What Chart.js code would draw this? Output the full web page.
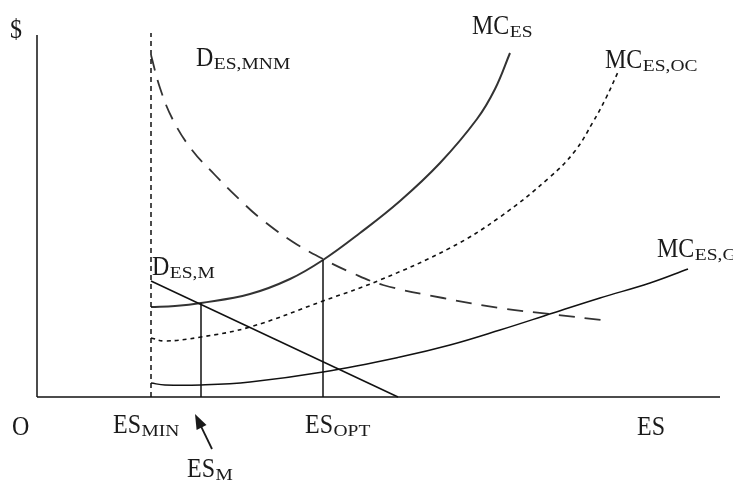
<!DOCTYPE html>
<html>
<head>
<meta charset="utf-8">
<script src="https://cdn.jsdelivr.net/npm/chart.js@4.4.1/dist/chart.umd.min.js"></script>
<style>
  html, body { margin: 0; padding: 0; background: #fff; }
  #c { display: block; }
</style>
</head>
<body>
<canvas id="c" width="733" height="481"></canvas>
<script>
// ---- Data (x = ES quantity, y = $) ----
const mcES_x   = [114, 138, 164, 213, 253, 286, 323, 363, 403, 440, 458, 473];
const mcES_y   = [90, 91, 94, 103, 118, 137, 164, 196, 234, 278, 308, 344];

const mcOC_x   = [114, 128, 164, 213, 286, 343, 413, 463, 513, 538, 556, 569, 581];
const mcOC_y   = [59, 56, 60, 70, 96, 117, 149, 180, 220, 246, 275, 299, 325];

const mcG_x    = [114, 128, 164, 213, 286, 363, 413, 463, 516, 563, 613, 651];
const mcG_y    = [14, 12, 12, 15, 25, 40, 52, 67, 84, 99, 114, 128];

const dM_x     = [114, 361];
const dM_y     = [116, 0];

const dMNM_x   = [114, 123, 136, 155, 178, 203, 223, 256, 286, 313, 346, 406, 463, 513, 573];
const dMNM_y   = [342, 309, 277, 247, 222, 197, 179, 155, 138, 125, 112, 99, 89, 83, 76];

const esMIN = 114, esM = 164, esOPT = 286;
const esMIN_top = 364;
const esM_top = 94;
const esOPT_top = 137;

const xMax = 683, yMax = 362;

const pts = (xs, ys) => xs.map((x, i) => ({ x: x, y: ys[i] }));

// ---- Annotation texts (main, subscript) ----
const labels = [
  { t: '$',  s: '',       x: -27, y: 359 },
  { t: 'O',  s: '',       x: -25, y: -38 },
  { t: 'ES', s: 'MIN',    x: 76,  y: -36 },
  { t: 'ES', s: 'OPT',    x: 268, y: -36 },
  { t: 'ES', s: '',       x: 600, y: -38 },
  { t: 'ES', s: 'M',      x: 150, y: -80 },
  { t: 'D',  s: 'ES,MNM', x: 159, y: 331 },
  { t: 'D',  s: 'ES,M',   x: 115, y: 122 },
  { t: 'MC', s: 'ES',     x: 435, y: 363 },
  { t: 'MC', s: 'ES,OC',  x: 568, y: 329 },
  { t: 'MC', s: 'ES,G',   x: 620, y: 140 }
];
const arrow = { x1: 175, y1: -52, x2: 158, y2: -17 };

const textPlugin = {
  id: 'texts',
  afterDatasetsDraw(chart) {
    const ctx = chart.ctx;
    const xs = chart.scales.x, ys = chart.scales.y;
    ctx.save();
    ctx.fillStyle = '#1a1a1a';
    ctx.textBaseline = 'alphabetic';
    ctx.textAlign = 'left';
    labels.forEach(l => {
      const px = xs.getPixelForValue(l.x);
      const py = ys.getPixelForValue(l.y);
      ctx.font = '24px "Liberation Serif", "Times New Roman", serif';
      const w = ctx.measureText(l.t).width;
      ctx.save();
      ctx.translate(px, py);
      ctx.scale(1, 1.1);
      ctx.fillText(l.t, 0, 0);
      ctx.restore();
      if (l.s) {
        ctx.save();
        ctx.translate(px + w + 0.5, py + 3);
        ctx.scale(1.3, 1.05);
        ctx.font = '15px "Liberation Serif", "Times New Roman", serif';
        ctx.fillText(l.s, 0, 0);
        ctx.restore();
      }
    });
    // arrow
    const ax1 = xs.getPixelForValue(arrow.x1), ay1 = ys.getPixelForValue(arrow.y1);
    const ax2 = xs.getPixelForValue(arrow.x2), ay2 = ys.getPixelForValue(arrow.y2);
    const ang = Math.atan2(ay2 - ay1, ax2 - ax1);
    ctx.strokeStyle = '#1a1a1a';
    ctx.lineWidth = 1.8;
    ctx.beginPath();
    ctx.moveTo(ax1, ay1);
    ctx.lineTo(ax2 - 8 * Math.cos(ang), ay2 - 8 * Math.sin(ang));
    ctx.stroke();
    ctx.beginPath();
    ctx.moveTo(ax2, ay2);
    ctx.lineTo(ax2 - 15 * Math.cos(ang) + 5.5 * Math.sin(ang), ay2 - 15 * Math.sin(ang) - 5.5 * Math.cos(ang));
    ctx.lineTo(ax2 - 15 * Math.cos(ang) - 5.5 * Math.sin(ang), ay2 - 15 * Math.sin(ang) + 5.5 * Math.cos(ang));
    ctx.closePath();
    ctx.fill();
    ctx.restore();
  }
};

const line = (data, color, width, dash, curve) => ({
  type: 'scatter',
  data: data,
  showLine: true,
  pointRadius: 0,
  borderColor: color,
  backgroundColor: color,
  borderWidth: width,
  borderDash: dash || [],
  tension: curve ? 0.4 : 0,
  clip: false,
  fill: false
});

new Chart(document.getElementById('c'), {
  type: 'scatter',
  data: {
    datasets: [
      line(pts([0, 0], [0, yMax]), '#111', 1.5),
      line(pts([0, xMax], [0, 0]), '#111', 1.5),
      line(pts([esMIN, esMIN], [0, esMIN_top]), '#111', 1.5, [5, 4]),
      line(pts([esM, esM], [0, esM_top]), '#111', 1.5),
      line(pts([esOPT, esOPT], [0, esOPT_top]), '#111', 1.5),
      line(pts(dM_x, dM_y), '#111', 1.5),
      line(pts(mcG_x, mcG_y), '#111', 1.5, null, true),
      line(pts(mcOC_x, mcOC_y), '#111', 1.6, [4, 4], true),
      line(pts(dMNM_x, dMNM_y), '#333', 1.8, [16, 10], true),
      line(pts(mcES_x, mcES_y), '#333', 2, null, true)
    ]
  },
  options: {
    responsive: false,
    animation: false,
    layout: { padding: { left: 37, right: 13, top: 35, bottom: 84 } },
    plugins: { legend: { display: false }, tooltip: { enabled: false } },
    scales: {
      x: { type: 'linear', min: 0, max: xMax, display: false },
      y: { type: 'linear', min: 0, max: yMax, display: false }
    }
  },
  plugins: [textPlugin]
});
</script>
</body>
</html>
